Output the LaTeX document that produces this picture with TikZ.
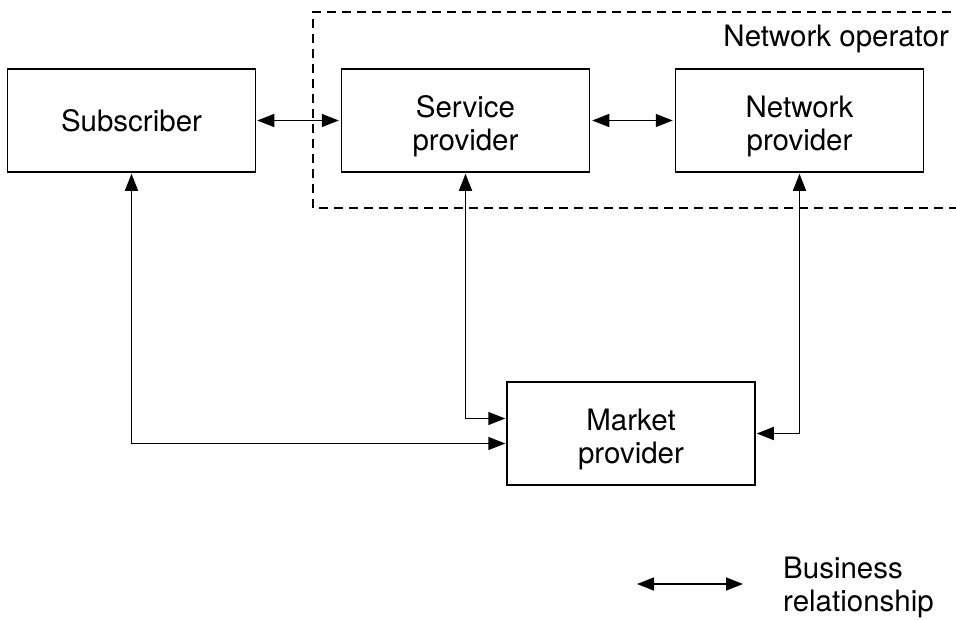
\documentclass[tikz,border=0pt]{standalone}
\usepackage{fontspec}
\setmainfont{TeX Gyre Heros}
\usetikzlibrary{arrows.meta}

\newcommand{\topstrut}{\rule{0pt}{33.5pt}}

\tikzset{
  party/.style={draw, line width=1.5pt, minimum width=248pt, minimum height=103pt,
    align=center, font=\fontsize{29.5}{33}\selectfont, inner sep=0pt},
  biz/.style={line width=1.5pt, {Triangle[length=17pt,width=13pt]}-{Triangle[length=17pt,width=13pt]}},
  label/.style={font=\fontsize{29.5}{33}\selectfont, inner sep=0pt}
}

\begin{document}
\begin{tikzpicture}
[x=1pt,y=1pt,yscale=-1,xscale=1]
\useasboundingbox (0,0) rectangle (956,619);

% network operator area, open to the right
\begin{scope}
\clip (0,0) rectangle (956,619);
\draw [line width=1.5pt, dash pattern=on 9pt off 6pt] (966,12) -- (313,12) -- (313,208) -- (966,208);
\end{scope}
\node [label, anchor=east] (netop) at (949,39) {Network operator};

% parties
\node [party] (sub) at (131.5,120.5) {Subscriber};
\node [party] (serv) at (465.5,120.5) {\topstrut Service\\provider};
\node [party] (netp) at (799.5,120.5) {\topstrut Network\\provider};
\node [party] (mkt) at (631,433.5) {\topstrut Market\\provider};

% relationships
\draw [biz, shorten <=1pt, shorten >=2pt] (sub) -- (serv);
\draw [biz, shorten <=2pt, shorten >=2pt] (serv) -- (netp);
\draw [biz, shorten <=1pt, shorten >=1pt] (serv.south) |- ([yshift=-15pt]mkt.west);
\draw [biz, shorten <=1pt, shorten >=1pt] (sub.south) |- ([yshift=10pt]mkt.west);
\draw [biz, shorten <=1pt, shorten >=1pt] (netp.south) |- (mkt.east);

% legend
\coordinate (legA) at (637,584);
\coordinate (legB) at (743,584);
\draw [biz] (legA) -- (legB);
\node [label, anchor=west, align=left] (legtext) at (783,587) {Business\\relationship};

\end{tikzpicture}
\end{document}
